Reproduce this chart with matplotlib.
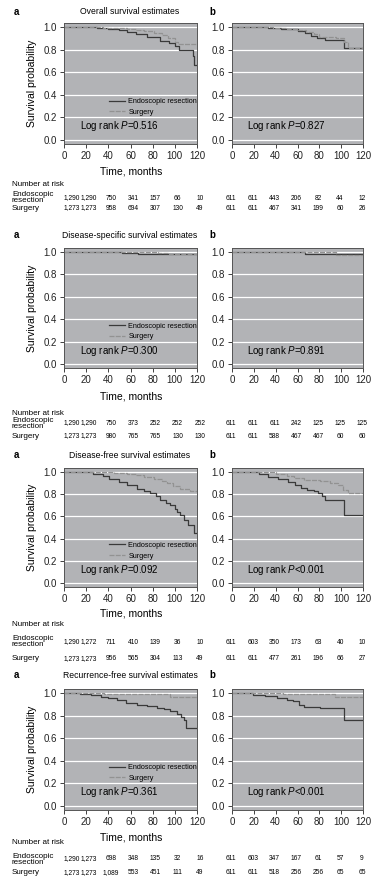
import matplotlib
matplotlib.use("Agg")
import matplotlib.pyplot as plt
from matplotlib.transforms import blended_transform_factory

plt.rcParams['font.family'] = ['Liberation Sans', 'DejaVu Sans']
plt.rcParams['mathtext.fontset'] = 'custom'
plt.rcParams['mathtext.it'] = 'Liberation Sans:italic'
plt.rcParams['mathtext.rm'] = 'Liberation Sans'

# ---------------- data ----------------
time_ticks = [0, 20, 40, 60, 80, 100, 120]
prob_ticks = [0.0, 0.2, 0.4, 0.6, 0.8, 1.0]
group_labels = ["Endoscopic resection", "Surgery"]
panel_titles = ["Overall survival estimates", "Disease-specific survival estimates",
                "Disease-free survival estimates", "Recurrence-free survival estimates"]
pvalues_a = ["=0.516", "=0.300", "=0.092", "=0.361"]
pvalues_b = ["=0.827", "=0.891", "<0.001", "<0.001"]

# Overall survival
os_a_er_t = [0, 30, 40, 50, 57, 65, 75, 87, 95, 100, 104, 116, 117, 120]
os_a_er_s = [1.0, 0.995, 0.985, 0.97, 0.958, 0.94, 0.915, 0.88, 0.855, 0.83, 0.80, 0.74, 0.66, 0.66]
os_a_su_t = [0, 35, 45, 57, 65, 72, 81, 88, 94, 100, 103, 120]
os_a_su_s = [1.0, 0.995, 0.99, 0.98, 0.97, 0.96, 0.944, 0.925, 0.90, 0.87, 0.845, 0.845]
os_b_er_t = [0, 33, 45, 51, 60, 67, 72, 78, 85, 103, 120]
os_b_er_s = [1.0, 0.995, 0.985, 0.98, 0.965, 0.944, 0.92, 0.90, 0.885, 0.81, 0.81]
os_b_su_t = [0, 38, 50, 60, 68, 75, 80, 95, 103, 106, 120]
os_b_su_s = [1.0, 0.995, 0.985, 0.97, 0.955, 0.935, 0.915, 0.905, 0.87, 0.81, 0.81]

# Disease-specific survival
dss_a_er_t = [0, 52, 67, 120]
dss_a_er_s = [1.0, 0.99, 0.98, 0.98]
dss_a_su_t = [0, 85, 95, 120]
dss_a_su_s = [1.0, 0.99, 0.982, 0.982]
dss_b_er_t = [0, 67, 120]
dss_b_er_s = [1.0, 0.98, 0.98]
dss_b_su_t = [0, 95, 120]
dss_b_su_s = [1.0, 0.97, 0.97]

# Disease-free survival
dfs_a_er_t = [0, 14, 26, 35, 41, 50, 57, 66, 72, 78, 83, 87, 92, 96, 100, 102, 105, 108, 112, 117, 120]
dfs_a_er_s = [1.0, 0.995, 0.98, 0.96, 0.94, 0.91, 0.88, 0.85, 0.83, 0.81, 0.78, 0.75, 0.72, 0.70, 0.67, 0.64, 0.61, 0.57, 0.52, 0.45, 0.45]
dfs_a_su_t = [0, 26, 45, 57, 65, 72, 81, 88, 93, 98, 105, 114, 120]
dfs_a_su_s = [1.0, 0.995, 0.99, 0.985, 0.97, 0.955, 0.94, 0.92, 0.90, 0.875, 0.85, 0.825, 0.82]
dfs_b_er_t = [0, 15, 25, 33, 42, 51, 58, 63, 69, 75, 79, 82, 85, 103, 120]
dfs_b_er_s = [1.0, 0.995, 0.98, 0.958, 0.935, 0.91, 0.88, 0.853, 0.84, 0.83, 0.81, 0.78, 0.75, 0.61, 0.61]
dfs_b_su_t = [0, 27, 40, 50, 57, 66, 81, 90, 97, 102, 106, 120]
dfs_b_su_s = [1.0, 0.995, 0.985, 0.965, 0.943, 0.93, 0.92, 0.90, 0.88, 0.84, 0.81, 0.81]

# Recurrence-free survival
rfs_a_er_t = [0, 14, 24, 33, 40, 48, 56, 66, 75, 84, 90, 96, 102, 106, 108, 110, 120]
rfs_a_er_s = [1.0, 0.99, 0.98, 0.965, 0.955, 0.935, 0.915, 0.897, 0.885, 0.867, 0.855, 0.838, 0.81, 0.785, 0.764, 0.69, 0.69]
rfs_a_su_t = [0, 36, 84, 96, 120]
rfs_a_su_s = [1.0, 0.995, 0.99, 0.965, 0.965]
rfs_b_er_t = [0, 19, 30, 41, 50, 56, 61, 66, 81, 103, 120]
rfs_b_er_s = [1.0, 0.985, 0.97, 0.955, 0.94, 0.925, 0.89, 0.88, 0.866, 0.757, 0.757]
rfs_b_su_t = [0, 47, 94, 120]
rfs_b_su_s = [1.0, 0.99, 0.965, 0.965]

# Number at risk
os_a_risk_er = ['1,290', '1,290', '750', '341', '157', '66', '10']
os_a_risk_su = ['1,273', '1,273', '958', '694', '307', '130', '49']
os_b_risk_er = ['611', '611', '443', '206', '82', '44', '12']
os_b_risk_su = ['611', '611', '467', '341', '199', '60', '26']
dss_a_risk_er = ['1,290', '1,290', '750', '373', '252', '252', '252']
dss_a_risk_su = ['1,273', '1,273', '980', '765', '765', '130', '130']
dss_b_risk_er = ['611', '611', '611', '242', '125', '125', '125']
dss_b_risk_su = ['611', '611', '588', '467', '467', '60', '60']
dfs_a_risk_er = ['1,290', '1,272', '711', '410', '139', '36', '10']
dfs_a_risk_su = ['1,273', '1,273', '956', '565', '304', '113', '49']
dfs_b_risk_er = ['611', '603', '350', '173', '63', '40', '10']
dfs_b_risk_su = ['611', '611', '477', '261', '196', '66', '27']
rfs_a_risk_er = ['1,290', '1,273', '698', '348', '135', '32', '16']
rfs_a_risk_su = ['1,273', '1,273', '1,089', '553', '451', '111', '49']
rfs_b_risk_er = ['611', '603', '347', '167', '61', '57', '9']
rfs_b_risk_su = ['611', '611', '518', '256', '256', '65', '65']

panels = [
    ((os_a_er_t, os_a_er_s, os_a_su_t, os_a_su_s), (os_b_er_t, os_b_er_s, os_b_su_t, os_b_su_s),
     (os_a_risk_er, os_a_risk_su), (os_b_risk_er, os_b_risk_su)),
    ((dss_a_er_t, dss_a_er_s, dss_a_su_t, dss_a_su_s), (dss_b_er_t, dss_b_er_s, dss_b_su_t, dss_b_su_s),
     (dss_a_risk_er, dss_a_risk_su), (dss_b_risk_er, dss_b_risk_su)),
    ((dfs_a_er_t, dfs_a_er_s, dfs_a_su_t, dfs_a_su_s), (dfs_b_er_t, dfs_b_er_s, dfs_b_su_t, dfs_b_su_s),
     (dfs_a_risk_er, dfs_a_risk_su), (dfs_b_risk_er, dfs_b_risk_su)),
    ((rfs_a_er_t, rfs_a_er_s, rfs_a_su_t, rfs_a_su_s), (rfs_b_er_t, rfs_b_er_s, rfs_b_su_t, rfs_b_su_s),
     (rfs_a_risk_er, rfs_a_risk_su), (rfs_b_risk_er, rfs_b_risk_su)),
]

# ---------------- layout (pixels) ----------------
W, H = 390, 890
fig = plt.figure(figsize=(W / 100, H / 100), dpi=100)
fig.patch.set_facecolor('white')

def fx(px):
    return px / W

def fy(py):
    return 1 - py / H

xa0, xa1 = 64, 197
xb0, xb1 = 232, 363
rows = [(23, 144), (248, 368), (468, 587), (689, 810)]
title_y = [12, 235, 455, 675]
time_lbl_y = [172, 397, 613, 838]
nar_y = [185, 413, 625, 842]
er_y = [198, 423, 642, 859]
su_y = [208, 436, 659, 873]

BG = '#b2b3b6'
ER_C = '#3a3a3a'
SU_C = '#929292'

def style_ax(ax):
    ax.set_facecolor(BG)
    ax.set_xlim(0, 120)
    ax.set_ylim(-0.035, 1.035)
    ax.set_xticks(time_ticks)
    ax.set_yticks(prob_ticks)
    ax.set_yticklabels([f"{v:.1f}" for v in prob_ticks])
    ax.tick_params(axis='both', labelsize=7, length=3, width=0.6, pad=2,
                   colors='#222222', direction='out')
    ax.grid(axis='y', color='white', lw=0.9)
    ax.set_axisbelow(True)
    for sp in ax.spines.values():
        sp.set_color('#555555')
        sp.set_linewidth(0.7)

for i, (cur_a, cur_b, risk_a, risk_b) in enumerate(panels):
    top, bot = rows[i]
    axa = fig.add_axes([fx(xa0), fy(bot), fx(xa1 - xa0), (bot - top) / H])
    axb = fig.add_axes([fx(xb0), fy(bot), fx(xb1 - xb0), (bot - top) / H])
    for ax, cur in ((axa, cur_a), (axb, cur_b)):
        style_ax(ax)
        ax.step(cur[0], cur[1], where='post', color=ER_C, lw=0.9, label=group_labels[0])
        ax.step(cur[2], cur[3], where='post', color=SU_C, lw=0.9, dashes=(4, 1),
                label=group_labels[1])
    axa.text(14, 0.12, 'Log rank $\\it{P}$' + pvalues_a[i], fontsize=7, va='center')
    axb.text(14, 0.12, 'Log rank $\\it{P}$' + pvalues_b[i], fontsize=7, va='center')
    axa.legend(loc='center left', bbox_to_anchor=(0.31, 0.305), frameon=False,
               fontsize=5.2, handlelength=2.2, labelspacing=0.5, handletextpad=0.5,
               borderpad=0)
    # titles & panel letters
    fig.text(fx(130), fy(title_y[i]), panel_titles[i], fontsize=6.2, ha='center', va='center')
    fig.text(fx(14), fy(title_y[i]), 'a', fontsize=7, fontweight='bold', va='center')
    fig.text(fx(209), fy(title_y[i]), 'b', fontsize=7, fontweight='bold', va='center')
    # axis labels
    fig.text(fx(32), fy((top + bot) / 2), 'Survival probability', rotation=90,
             fontsize=7.5, ha='center', va='center')
    fig.text(fx(131), fy(time_lbl_y[i]), 'Time, months', fontsize=7.5, ha='center', va='center')
    # number at risk
    fig.text(fx(12), fy(nar_y[i]), 'Number at risk', fontsize=5.8, va='center')
    fig.text(fx(12), fy(er_y[i]), 'Endoscopic\nresection', fontsize=5.8, va='center',
             linespacing=0.8)
    fig.text(fx(12), fy(su_y[i]), 'Surgery', fontsize=5.8, va='center')
    tra = blended_transform_factory(axa.transData, fig.transFigure)
    trb = blended_transform_factory(axb.transData, fig.transFigure)
    for k, t in enumerate(time_ticks):
        for lab, yy in ((risk_a[0][k], er_y[i]), (risk_a[1][k], su_y[i])):
            if k == 0:
                axa.text(-0.5, fy(yy), lab, transform=tra, fontsize=4.8, ha='left', va='center',
                         clip_on=False)
            else:
                axa.text(t + 2.5, fy(yy), lab, transform=tra, fontsize=4.8, ha='center',
                         va='center', clip_on=False)
        for lab, yy in ((risk_b[0][k], er_y[i]), (risk_b[1][k], su_y[i])):
            axb.text(t - 1, fy(yy), lab, transform=trb, fontsize=4.8, ha='center', va='center',
                     clip_on=False)

fig.savefig('out.png', dpi=100)
